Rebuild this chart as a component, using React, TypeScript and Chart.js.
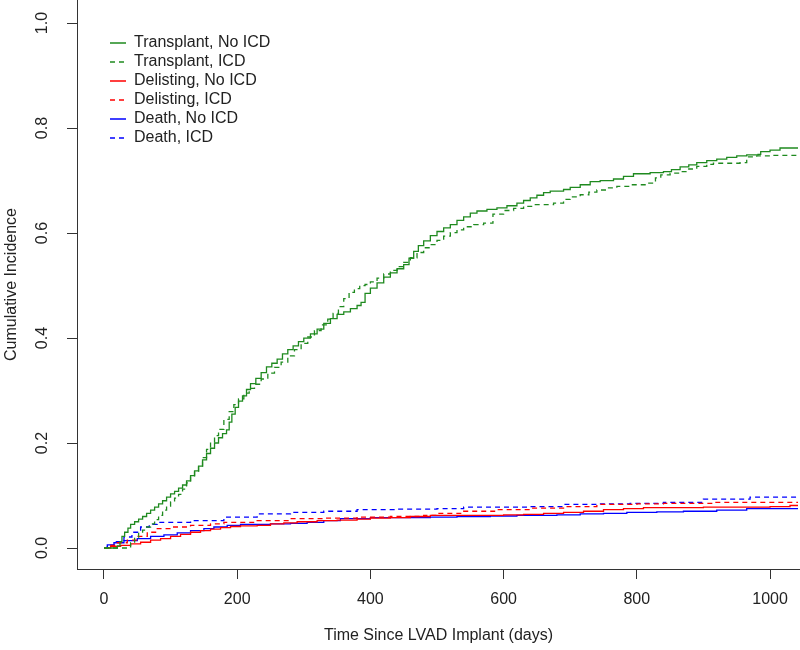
import { useEffect, useRef } from "react";
import { Chart, registerables } from "chart.js";

Chart.register(...registerables);

const FONT = "'Liberation Sans', Arial, sans-serif";

const xTickValues = [0, 200, 400, 600, 800, 1000];
const yTickValues = [0, 0.2, 0.4, 0.6, 0.8, 1.0];

const seriesLabels = [
  "Transplant, No ICD",
  "Transplant, ICD",
  "Delisting, No ICD",
  "Delisting, ICD",
  "Death, No ICD",
  "Death, ICD",
];

// [days, cumulative incidence]
const transplantNoICD: [number, number][] = [
  [0, 0], [20, 0.004], [24, 0.012], [27, 0.022], [31, 0.03], [36, 0.038], [40, 0.045], [46, 0.05],
  [52, 0.055], [58, 0.06], [64, 0.066], [70, 0.072], [76, 0.078], [82, 0.084], [88, 0.09], [94, 0.097],
  [100, 0.103], [106, 0.108], [112, 0.114], [118, 0.12], [124, 0.128], [130, 0.138], [136, 0.147],
  [142, 0.156], [148, 0.168], [154, 0.18], [160, 0.19], [166, 0.2], [172, 0.21], [178, 0.218],
  [184, 0.225], [188, 0.24], [192, 0.255], [197, 0.268], [202, 0.28], [208, 0.29], [214, 0.302],
  [220, 0.313], [228, 0.323], [236, 0.334], [244, 0.345], [252, 0.352], [260, 0.36], [268, 0.37],
  [276, 0.378], [284, 0.385], [292, 0.393], [300, 0.4], [310, 0.408], [320, 0.417], [330, 0.428],
  [340, 0.437], [350, 0.445], [360, 0.45], [370, 0.456], [380, 0.462], [386, 0.468], [392, 0.485],
  [400, 0.495], [410, 0.505], [420, 0.516], [430, 0.524], [440, 0.532], [450, 0.54], [458, 0.552],
  [465, 0.565], [472, 0.576], [480, 0.585], [490, 0.595], [500, 0.603], [510, 0.61], [520, 0.616],
  [530, 0.624], [540, 0.631], [550, 0.638], [560, 0.642], [575, 0.645], [590, 0.648], [605, 0.652],
  [620, 0.657], [630, 0.662], [640, 0.667], [650, 0.672], [660, 0.677], [670, 0.68], [690, 0.683],
  [700, 0.687], [715, 0.692], [730, 0.698], [745, 0.7], [765, 0.703], [780, 0.708], [795, 0.713],
  [820, 0.715], [840, 0.717], [852, 0.721], [865, 0.726], [878, 0.73], [890, 0.734], [905, 0.738],
  [920, 0.741], [935, 0.744], [950, 0.747], [965, 0.749], [982, 0.75], [986, 0.755], [1000, 0.758],
  [1015, 0.762], [1042, 0.762],
];

const transplantICD: [number, number][] = [
  [0, 0], [35, 0.002], [40, 0.01], [46, 0.02], [52, 0.028], [58, 0.034], [64, 0.04], [70, 0.046],
  [76, 0.054], [82, 0.062], [88, 0.072], [94, 0.08], [100, 0.088], [106, 0.095], [112, 0.102],
  [118, 0.112], [124, 0.124], [130, 0.135], [136, 0.146], [142, 0.156], [148, 0.172], [154, 0.188],
  [160, 0.202], [166, 0.214], [172, 0.226], [180, 0.245], [188, 0.26], [195, 0.273], [202, 0.284],
  [210, 0.295], [218, 0.304], [226, 0.312], [236, 0.322], [246, 0.333], [256, 0.344], [266, 0.354],
  [276, 0.366], [286, 0.378], [296, 0.39], [306, 0.402], [316, 0.414], [326, 0.425], [336, 0.436],
  [344, 0.447], [352, 0.46], [360, 0.475], [368, 0.487], [376, 0.494], [384, 0.5], [392, 0.502],
  [400, 0.507], [410, 0.514], [420, 0.522], [430, 0.529], [440, 0.536], [450, 0.544], [460, 0.553],
  [470, 0.563], [480, 0.572], [490, 0.578], [500, 0.586], [510, 0.594], [520, 0.601], [530, 0.606],
  [540, 0.612], [555, 0.616], [570, 0.619], [584, 0.636], [600, 0.643], [615, 0.647], [630, 0.651],
  [645, 0.654], [675, 0.657], [690, 0.664], [700, 0.669], [715, 0.673], [728, 0.678], [740, 0.682],
  [755, 0.686], [770, 0.689], [790, 0.692], [815, 0.695], [828, 0.705], [836, 0.711], [850, 0.714],
  [865, 0.717], [878, 0.722], [890, 0.727], [905, 0.731], [915, 0.733], [955, 0.734], [965, 0.745],
  [980, 0.747], [1000, 0.748], [1042, 0.75],
];

const delistingNoICD: [number, number][] = [
  [0, 0], [10, 0.003], [25, 0.005], [40, 0.008], [55, 0.011], [70, 0.015], [85, 0.018], [100, 0.022],
  [115, 0.026], [130, 0.03], [145, 0.033], [160, 0.036], [175, 0.039], [190, 0.041], [205, 0.042],
  [230, 0.043], [250, 0.046], [270, 0.048], [290, 0.05], [320, 0.052], [350, 0.053], [380, 0.055],
  [400, 0.057], [430, 0.058], [460, 0.06], [490, 0.062], [540, 0.062], [600, 0.063], [630, 0.064],
  [660, 0.066], [690, 0.068], [720, 0.07], [750, 0.073], [780, 0.075], [810, 0.077], [900, 0.078],
  [1000, 0.079], [1030, 0.081], [1042, 0.081],
];

const delistingICD: [number, number][] = [
  [0, 0], [8, 0.005], [20, 0.01], [35, 0.015], [50, 0.022], [65, 0.03], [80, 0.037], [100, 0.04],
  [130, 0.043], [160, 0.046], [180, 0.049], [230, 0.052], [280, 0.056], [330, 0.057], [380, 0.059],
  [430, 0.06], [480, 0.062], [500, 0.066], [540, 0.07], [590, 0.073], [640, 0.076], [690, 0.079],
  [740, 0.083], [800, 0.084], [840, 0.085], [915, 0.087], [1042, 0.087],
];

const deathNoICD: [number, number][] = [
  [0, 0], [5, 0.006], [15, 0.01], [30, 0.014], [50, 0.018], [70, 0.022], [90, 0.025], [110, 0.029],
  [130, 0.033], [150, 0.037], [165, 0.04], [185, 0.043], [205, 0.045], [250, 0.046], [280, 0.047],
  [305, 0.049], [330, 0.052], [355, 0.056], [400, 0.058], [460, 0.058], [490, 0.059], [530, 0.06],
  [580, 0.061], [620, 0.062], [680, 0.063], [715, 0.065], [750, 0.066], [785, 0.068], [830, 0.069],
  [870, 0.07], [920, 0.072], [965, 0.075], [1042, 0.075],
];

const deathICD: [number, number][] = [
  [0, 0], [5, 0.005], [15, 0.012], [30, 0.021], [42, 0.03], [55, 0.04], [68, 0.045], [80, 0.049],
  [130, 0.052], [180, 0.059], [230, 0.065], [280, 0.068], [330, 0.07], [380, 0.073], [440, 0.074],
  [500, 0.075], [540, 0.078], [600, 0.078], [640, 0.079], [690, 0.083], [740, 0.084], [790, 0.085],
  [840, 0.087], [900, 0.093], [970, 0.097], [1042, 0.097],
];

const seriesData = [transplantNoICD, transplantICD, delistingNoICD, delistingICD, deathNoICD, deathICD];
const seriesColors = ["#1f8a1f", "#1f8a1f", "#ff0000", "#ff0000", "#0000ff", "#0000ff"];
const seriesDashed = [false, true, false, true, false, true];

const legendOffset = {
  id: "legendOffset",
  afterLayout(chart: any) {
    const lg = chart.legend;
    if (lg) {
      lg.left += 30;
      lg.right += 30;
      lg.top += 32;
    }
  },
};

export default function App() {
  const ref = useRef<HTMLCanvasElement>(null);

  useEffect(() => {
    if (!ref.current) return;
    const datasets = seriesData.map((arr, i) => ({
      label: seriesLabels[i],
      data: arr.map(([x, y]) => ({ x, y })),
      borderColor: seriesColors[i],
      backgroundColor: "rgba(0,0,0,0)",
      borderWidth: 1.3,
      borderDash: seriesDashed[i] ? [5, 4] : [],
      pointRadius: 0,
      stepped: "before" as const,
      fill: false,
    }));

    const chart = new Chart(ref.current, {
      type: "line",
      data: { datasets },
      options: {
        responsive: false,
        animation: false,
        layout: { padding: 0 },
        plugins: {
          legend: {
            position: "chartArea" as any,
            align: "start",
            labels: {
              usePointStyle: false,
              boxWidth: 16,
              boxHeight: 0,
              padding: 3,
              color: "#222",
              font: { family: FONT, size: 16 },
            },
          },
          tooltip: { enabled: false },
        },
        scales: {
          x: {
            type: "linear",
            min: -40.5,
            max: 1045,
            grid: { display: true, drawOnChartArea: false, drawTicks: true, tickLength: 10, color: "#333", lineWidth: 1 },
            border: { display: true, color: "#333", width: 1 },
            ticks: {
              autoSkip: false,
              maxRotation: 0,
              padding: 11,
              color: "#222",
              font: { family: FONT, size: 16 },
              callback: (v: any) => String(v),
            },
            title: {
              display: true,
              text: "Time Since LVAD Implant (days)",
              color: "#222",
              font: { family: FONT, size: 16 },
              padding: { top: 0, bottom: 5 },
            },
            afterBuildTicks: (s: any) => {
              s.ticks = xTickValues.map((v) => ({ value: v }));
            },
            afterFit: (s: any) => {
              s.height = 81;
              s.paddingLeft = 0;
              s.paddingRight = 0;
            },
          },
          y: {
            type: "linear",
            min: -0.04,
            max: 1.044,
            grid: { display: true, drawOnChartArea: false, drawTicks: true, tickLength: 10, color: "#333", lineWidth: 1 },
            border: { display: true, color: "#333", width: 1 },
            ticks: {
              autoSkip: false,
              minRotation: 90,
              maxRotation: 90,
              crossAlign: "center",
              padding: 13,
              color: "#222",
              font: { family: FONT, size: 16 },
              callback: (v: any) => Number(v).toFixed(1),
            },
            title: {
              display: true,
              text: "Cumulative Incidence",
              color: "#222",
              font: { family: FONT, size: 16 },
              padding: { top: 2, bottom: 0 },
            },
            afterBuildTicks: (s: any) => {
              s.ticks = yTickValues.map((v) => ({ value: v }));
            },
            afterFit: (s: any) => {
              s.width = 77;
              s.paddingTop = 0;
              s.paddingBottom = 0;
            },
          },
        },
      },
      plugins: [legendOffset],
    });
    return () => chart.destroy();
  }, []);

  return (
    <div style={{ position: "absolute", left: 0, top: 0, width: 800, height: 650, background: "#fff" }}>
      <canvas ref={ref} width={800} height={650} style={{ display: "block" }} />
    </div>
  );
}
